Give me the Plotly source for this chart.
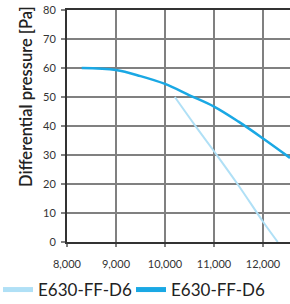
import plotly.graph_objects as go

# Data
series_names = ["E630-FF-D6", "E630-FF-D6"]
light_x = [10200, 10600, 11000, 11500, 12000, 12300]
light_y = [50, 40.5, 31.3, 19.5, 7, 0]
dark_x = [8300, 9000, 9500, 10000, 10500, 11000, 11500, 12000, 12550]
dark_y = [60, 59.3, 57.2, 54.5, 50.6, 46.7, 41.5, 35.7, 29]
x_ticks = [8000, 9000, 10000, 11000, 12000]
x_tick_labels = ["8,000", "9,000", "10,000", "11,000", "12,000"]
y_ticks = [0, 10, 20, 30, 40, 50, 60, 70, 80]
y_title = "Differential pressure [Pa]"

FONT = "Lato"
W, H = 290, 304
ML, MR, MT, MB = 67, 0, 10, 62
PW, PH = W - ML - MR, H - MT - MB
LEG_Y = (PH + MT - 290) / PH

fig = go.Figure()
fig.add_trace(go.Scatter(x=light_x, y=light_y, mode="lines", name=series_names[0],
                         legend="legend",
                         line=dict(color="#b0e0f6", width=2, shape="spline")))
fig.add_trace(go.Scatter(x=dark_x, y=dark_y, mode="lines", name=series_names[1],
                         legend="legend2",
                         line=dict(color="#1aa8e4", width=2.5, shape="spline")))

leg_common = dict(orientation="h", xref="paper", xanchor="left",
                  yref="paper", y=LEG_Y, yanchor="middle",
                  font=dict(size=17, color="#222", family=FONT),
                  itemwidth=30, itemsizing="constant",
                  bgcolor="rgba(0,0,0,0)", borderwidth=0)

fig.update_layout(
    template="none",
    width=W, height=H,
    margin=dict(l=ML, r=MR, t=MT, b=MB, pad=0, autoexpand=False),
    paper_bgcolor="white", plot_bgcolor="white",
    font=dict(family=FONT, color="#222"),
    showlegend=True,
    legend=dict(x=(-2 - ML) / PW, **leg_common),
    legend2=dict(x=(131 - ML) / PW, **leg_common),
    xaxis=dict(range=[8000, 12550], tickvals=x_ticks, ticktext=x_tick_labels,
               automargin=False,
               showgrid=True, gridcolor="#808080", gridwidth=1.8,
               showline=True, linecolor="#333", linewidth=2, mirror=True,
               ticks="outside", ticklen=3, tickcolor="#808080", tickwidth=1.5,
               ticklabelstandoff=8,
               tickfont=dict(size=11, color="#333", family=FONT),
               zeroline=False, fixedrange=True),
    yaxis=dict(range=[0, 80], tickvals=y_ticks, automargin=False,
               showgrid=True, gridcolor="#808080", gridwidth=1.8,
               showline=True, linecolor="#333", linewidth=2,
               ticks="outside", ticklen=4, tickcolor="#808080", tickwidth=1.5,
               ticklabelstandoff=3,
               tickfont=dict(size=11, color="#333", family=FONT),
               zeroline=False, fixedrange=True),
    annotations=[dict(text=y_title, textangle=-90, xref="paper", yref="paper",
                      x=0, y=(PH + MT - 97) / PH, xanchor="center", yanchor="middle",
                      xshift=-41, showarrow=False,
                      font=dict(size=16.5, color="#222", family=FONT, weight=600))],
)

fig.write_html("out.html", config={"displayModeBar": False, "staticPlot": True},
               post_script="document.body.style.margin='0';")
